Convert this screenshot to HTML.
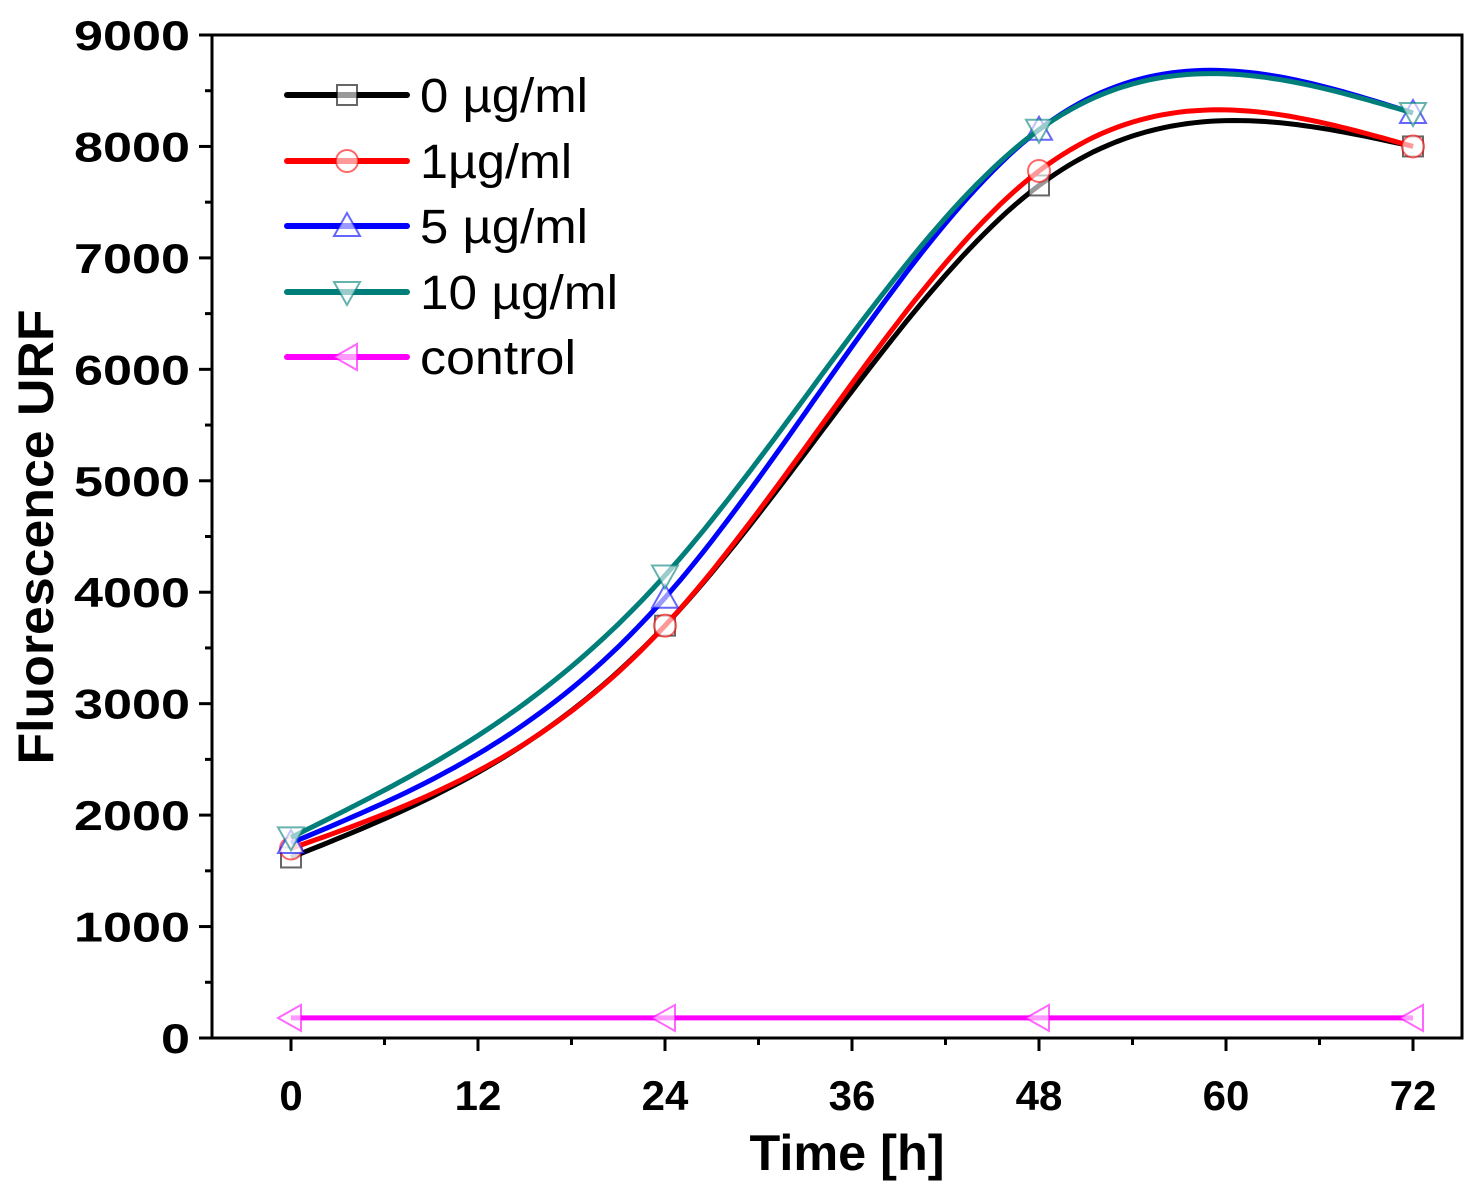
<!DOCTYPE html>
<html><head><meta charset="utf-8">
<style>
html,body{margin:0;padding:0;background:#fff;}
svg{display:block;font-family:"Liberation Sans",Arial,sans-serif;}
</style></head>
<body>
<svg id="chart" width="1482" height="1193" viewBox="0 0 1482 1193" xmlns="http://www.w3.org/2000/svg">
<g id="axes"></g>
<g id="series"></g>
<g id="legend"></g>
<text x="847" y="1170" font-size="50" font-weight="bold" text-anchor="middle" textLength="195" lengthAdjust="spacingAndGlyphs">Time [h]</text>
<text transform="translate(53,537) rotate(-90)" font-size="50" font-weight="bold" text-anchor="middle" textLength="455" lengthAdjust="spacingAndGlyphs">Fluorescence URF</text>
</svg>
<script>
const times = [0, 24, 48, 72];
const seriesNames = ["0 µg/ml", "1µg/ml", "5 µg/ml", "10 µg/ml", "control"];
const values0 = [1620, 3700, 7650, 8000];
const values1 = [1700, 3700, 7780, 8000];
const values5 = [1750, 3950, 8150, 8300];
const values10 = [1800, 4150, 8150, 8300];
const valuesControl = [180, 180, 180, 180];
const xTicks = [0, 12, 24, 36, 48, 60, 72];
const yTicks = [0, 1000, 2000, 3000, 4000, 5000, 6000, 7000, 8000, 9000];

const NS = "http://www.w3.org/2000/svg";
const L = 212, R = 1462, T = 35, B = 1038;
const X = t => 291 + (t / 72) * (1413 - 291);
const Y = v => B - (v / 9000) * (B - T);
function mk(tag, attrs, parent) {
  const e = document.createElementNS(NS, tag);
  for (const k in attrs) e.setAttribute(k, attrs[k]);
  parent.appendChild(e);
  return e;
}
const axes = document.getElementById('axes');
const frame = mk('rect', {x: L, y: T, width: R - L, height: B - T, fill: 'none', stroke: '#000', 'stroke-width': 3}, axes);


yTicks.forEach((v, i) => {
  const tk = mk('line', {x1: L - 13, x2: L, y1: Y(v), y2: Y(v), stroke: '#000', 'stroke-width': 3}, axes);
  
  
  if (i < yTicks.length - 1) {
    const mn = mk('line', {x1: L - 7, x2: L, y1: Y(v + 500), y2: Y(v + 500), stroke: '#000', 'stroke-width': 3}, axes);
    
    
  }
  const s = String(v);
  const lb = mk('text', {x: 190, y: Y(v) + 15, 'font-size': 42, 'font-weight': 'bold', 'text-anchor': 'end', textLength: 29 * s.length, lengthAdjust: 'spacingAndGlyphs'}, axes);
  lb.textContent = s;
  
  
});
xTicks.forEach((t, i) => {
  const tk = mk('line', {x1: X(t), x2: X(t), y1: B, y2: B + 13, stroke: '#000', 'stroke-width': 3}, axes);
  
  
  if (i < xTicks.length - 1) {
    const mn = mk('line', {x1: X(t + 6), x2: X(t + 6), y1: B, y2: B + 7, stroke: '#000', 'stroke-width': 3}, axes);
    
    
  }
  const lb = mk('text', {x: X(t), y: 1110, 'font-size': 42, 'font-weight': 'bold', 'text-anchor': 'middle'}, axes);
  lb.textContent = t;
  
  
});

function spline(xs, ys) {
  const n = xs.length, h = [], a = [], l = [1], mu = [0], z = [0], c = new Array(n).fill(0), b = [], d = [];
  for (let i = 0; i < n - 1; i++) h.push(xs[i + 1] - xs[i]);
  for (let i = 1; i < n - 1; i++) a[i] = 3 / h[i] * (ys[i + 1] - ys[i]) - 3 / h[i - 1] * (ys[i] - ys[i - 1]);
  for (let i = 1; i < n - 1; i++) {
    l[i] = 2 * (xs[i + 1] - xs[i - 1]) - h[i - 1] * mu[i - 1];
    mu[i] = h[i] / l[i];
    z[i] = (a[i] - h[i - 1] * z[i - 1]) / l[i];
  }
  for (let j = n - 2; j >= 0; j--) {
    c[j] = (j === 0 ? 0 : z[j] - mu[j] * c[j + 1]);
    b[j] = (ys[j + 1] - ys[j]) / h[j] - h[j] * (c[j + 1] + 2 * c[j]) / 3;
    d[j] = (c[j + 1] - c[j]) / (3 * h[j]);
  }
  return x => {
    let j = 0;
    while (j < n - 2 && x > xs[j + 1]) j++;
    const dx = x - xs[j];
    return ys[j] + b[j] * dx + c[j] * dx * dx + d[j] * dx * dx * dx;
  };
}
function marker(g, type, x, y, color) {
  const s = 11;
  let e;
  if (type === 'square') e = mk('rect', {x: x - s + 1, y: y - s + 1, width: 2 * s - 2, height: 2 * s - 2}, g);
  else if (type === 'circle') e = mk('circle', {cx: x, cy: y, r: s}, g);
  else if (type === 'up') e = mk('polygon', {points: `${x},${y - s - 2} ${x - s - 2},${y + s - 1} ${x + s + 2},${y + s - 1}`}, g);
  else if (type === 'down') e = mk('polygon', {points: `${x},${y + s + 2} ${x - s - 2},${y - s + 1} ${x + s + 2},${y - s + 1}`}, g);
  else e = mk('polygon', {points: `${x - s - 2},${y} ${x + s - 1},${y - s - 2} ${x + s - 1},${y + s + 2}`}, g);
  e.setAttribute('fill', 'rgba(255,255,255,0.6)');
  e.setAttribute('stroke', color);
  e.setAttribute('stroke-width', 2);
  e.setAttribute('stroke-opacity', 0.6);
  return e;
}
const defs = [
  {vals: values0, color: '#000000', m: 'square', name: 'series-0-ug'},
  {vals: values1, color: '#ff0000', m: 'circle', name: 'series-1-ug'},
  {vals: values5, color: '#0000ff', m: 'up', name: 'series-5-ug'},
  {vals: values10, color: '#007f7a', m: 'down', name: 'series-10-ug'},
  {vals: valuesControl, color: '#ff00ff', m: 'left', name: 'series-control'}
];
const legendWidths = [168, 152, 168, 198, 156];
const sg = document.getElementById('series');
const lg = document.getElementById('legend');
defs.forEach((s, k) => {
  const g = mk('g', {}, sg);
  
  
  const f = spline(times, s.vals);
  let dStr = '';
  for (let t = 0; t <= 72.001; t += 0.5) dStr += (t === 0 ? 'M' : 'L') + X(t).toFixed(1) + ',' + Y(f(t)).toFixed(1);
  const p = mk('path', {d: dStr, fill: 'none', stroke: s.color, 'stroke-width': 5}, g);
  
  
  times.forEach((t, i) => {
    const m = marker(g, s.m, X(t), Y(s.vals[i]), s.color);
    
    
  });
  const ly = [95, 161, 226, 292, 357][k];
  const eg = mk('g', {}, lg);
  
  
  mk('line', {x1: 287, x2: 407, y1: ly, y2: ly, stroke: s.color, 'stroke-width': 6, 'stroke-linecap': 'round'}, eg);
  marker(eg, s.m, 347, ly, s.color);
  const tx = mk('text', {x: 420, y: ly + 17, 'font-size': 48, textLength: legendWidths[k], lengthAdjust: 'spacingAndGlyphs'}, eg);
  tx.textContent = seriesNames[k];
});
</script>
</body></html>
